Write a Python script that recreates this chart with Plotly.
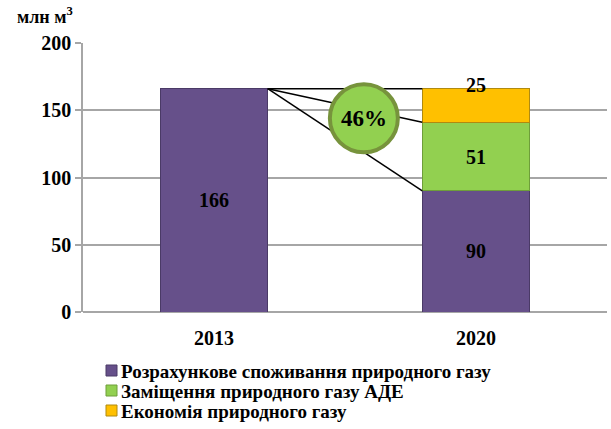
import plotly.graph_objects as go

categories = ["2013", "2020"]
consumption = [166, 90]
replacement = [None, 51]
savings = [None, 25]
series_names = ["Розрахункове споживання природного газу",
                "Заміщення природного газу АДЕ",
                "Економія природного газу"]
series_colors = ["#66508A", "#92D050", "#FFC000"]
edge_colors = ["#4A3A66", "#6E9E3A", "#B08A10"]
share_label = "46%"
y_ticks = [0, 50, 100, 150, 200]
unit_label = "млн м<sup>3</sup>"

FONT = "Liberation Serif, Times New Roman, serif"
BW = 0.41
W, H = 611, 429
ML, MR, MT, MB = 83, 4, 43, 117
PW, PH = W - ML - MR, H - MT - MB


def px_x(p):
    return (p - ML) / PW


def px_y(p):
    return (H - MB - p) / PH


bold = dict(family=FONT, color="black", weight="bold")

fig = go.Figure()
for vals, name, col, edge in zip([consumption, replacement, savings], series_names,
                                 series_colors, edge_colors):
    fig.add_trace(go.Bar(x=categories, y=vals, name=name, width=BW, showlegend=False,
                         marker=dict(color=col, line=dict(color=edge, width=1))))

# value labels
for i, v in enumerate(consumption):
    fig.add_annotation(xref="x", yref="y", x=i, y=v / 2, text=str(v), showarrow=False,
                       font=dict(size=20, **bold))
fig.add_annotation(xref="x", yref="y", x=1, y=consumption[1] + replacement[1] / 2,
                   text=str(replacement[1]), showarrow=False, font=dict(size=20, **bold))
total_2020 = consumption[1] + replacement[1] + savings[1]
fig.add_annotation(xref="x", yref="y", x=1, y=total_2020, text=str(savings[1]), showarrow=False,
                   yanchor="middle", yshift=4, font=dict(size=20, **bold))

x_left = 0 + BW / 2
x_right = 1 - BW / 2
shapes = []
for yv in [total_2020, consumption[1] + replacement[1], consumption[1]]:
    shapes.append(dict(type="line", xref="x", yref="y", x0=x_left, y0=consumption[0],
                       x1=x_right, y1=yv, line=dict(color="black", width=1.5), layer="above"))
cx, cy = 0.572, 144
shapes.append(dict(type="circle", xref="x", yref="y", xsizemode="pixel", ysizemode="pixel",
                   xanchor=cx, yanchor=cy, x0=-34, x1=34, y0=-34, y1=34,
                   fillcolor="#92D050", line=dict(color="#77933C", width=4), layer="above"))

# manual legend
for k, (name, col, edge) in enumerate(zip(series_names, series_colors, edge_colors)):
    top = 365 + 20 * k
    shapes.append(dict(type="rect", xref="paper", yref="paper",
                       x0=px_x(106), x1=px_x(117), y0=px_y(top), y1=px_y(top + 11),
                       fillcolor=col, line=dict(color=edge, width=1), layer="above"))
    fig.add_annotation(xref="paper", yref="paper", x=px_x(119), y=px_y(top + 6), xanchor="left",
                       yanchor="middle", text=name, showarrow=False, font=dict(size=19, **bold))

fig.update_layout(shapes=shapes)
fig.add_annotation(xref="x", yref="y", x=cx, y=cy, text=share_label, showarrow=False,
                   font=dict(size=23, **bold))
fig.add_annotation(xref="paper", yref="paper", x=px_x(15), y=px_y(29), xanchor="left", yanchor="bottom",
                   text=unit_label, showarrow=False, font=dict(size=18, **bold))

fig.update_layout(
    width=W, height=H, barmode="stack",
    margin=dict(l=ML, r=MR, t=MT, b=MB, autoexpand=False),
    plot_bgcolor="white", paper_bgcolor="white",
    font=dict(family=FONT, color="black"),
    showlegend=False,
    xaxis=dict(range=[-0.5, 1.5], showline=False, tickfont=dict(size=20, **bold),
               ticks="", showgrid=False, ticklabelstandoff=12),
    yaxis=dict(range=[0, 200], tickvals=y_ticks, showgrid=True, gridcolor="#A6A6A6", gridwidth=1.5,
               showline=True, linecolor="#A6A6A6", linewidth=1.5, ticks="outside", ticklen=6,
               tickcolor="#A6A6A6", tickwidth=1.5, zeroline=True, zerolinecolor="#A6A6A6",
               zerolinewidth=1.5, tickfont=dict(size=20, **bold)),
)
fig.write_html("out.html", config={"displayModeBar": False},
               post_script="document.body.style.margin='0';document.body.style.overflow='hidden';")
